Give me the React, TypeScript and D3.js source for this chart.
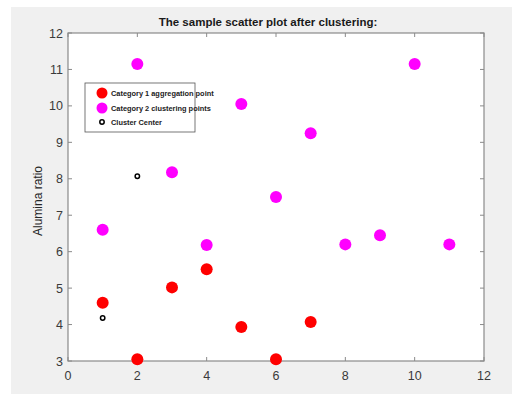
import React, { useEffect, useRef } from "react";
import * as d3 from "d3";

// category 1 (red) points
const cat1X = [1, 2, 3, 4, 5, 6, 7];
const cat1Y = [4.6, 3.05, 5.02, 5.52, 3.93, 3.05, 4.07];

// category 2 (magenta) points
const cat2X = [1, 2, 3, 4, 5, 6, 7, 8, 9, 10, 11];
const cat2Y = [6.6, 11.15, 8.18, 6.18, 10.05, 7.5, 9.25, 6.2, 6.45, 11.15, 6.2];

// cluster centers
const centerX = [1, 2];
const centerY = [4.18, 8.07];

const xTicks = [0, 2, 4, 6, 8, 10, 12];
const yTicks = [3, 4, 5, 6, 7, 8, 9, 10, 11, 12];

const legendLabels = [
  "Category 1 aggregation point",
  "Category 2 clustering points",
  "Cluster Center",
];

const W = 512;
const H = 394;

const App: React.FC = () => {
  const svgRef = useRef<SVGSVGElement | null>(null);

  useEffect(() => {
    const svg = d3.select(svgRef.current);
    svg.selectAll("*").remove();

    const left = 68, right = 484, top = 33, bottom = 361;
    const x = d3.scaleLinear().domain([0, 12]).range([left, right]);
    const y = d3.scaleLinear().domain([3, 12]).range([bottom, top]);
    const axisColor = "#8a8a8a";
    const labelColor = "#3a3a3a";
    const font = "Arial, 'Liberation Sans', sans-serif";

    // figure background
    svg.append("rect").attr("x", 11).attr("y", 7).attr("width", W - 11).attr("height", H - 7).attr("fill", "#f0f0f0");
    svg.append("rect").attr("x", left).attr("y", top).attr("width", right - left).attr("height", bottom - top).attr("fill", "#fff");

    // ticks on all four sides, pointing inward
    const tickLen = 4;
    const g = svg.append("g").attr("stroke", axisColor).attr("stroke-width", 1);
    xTicks.forEach((t) => {
      g.append("line").attr("x1", x(t)).attr("x2", x(t)).attr("y1", bottom).attr("y2", bottom - tickLen);
      g.append("line").attr("x1", x(t)).attr("x2", x(t)).attr("y1", top).attr("y2", top + tickLen);
    });
    yTicks.forEach((t) => {
      g.append("line").attr("x1", left).attr("x2", left + tickLen).attr("y1", y(t)).attr("y2", y(t));
      g.append("line").attr("x1", right).attr("x2", right - tickLen).attr("y1", y(t)).attr("y2", y(t));
    });
    svg.append("rect").attr("x", left).attr("y", top).attr("width", right - left).attr("height", bottom - top)
      .attr("fill", "none").attr("stroke", axisColor).attr("stroke-width", 1.2);

    // tick labels
    svg.append("g").selectAll("text").data(xTicks).enter().append("text")
      .attr("x", (d) => x(d)).attr("y", bottom + 19)
      .attr("text-anchor", "middle").attr("font-family", font).attr("font-size", 12.5).attr("fill", labelColor)
      .text((d) => d);
    svg.append("g").selectAll("text").data(yTicks).enter().append("text")
      .attr("x", left - 5).attr("y", (d) => y(d) + 4.5)
      .attr("text-anchor", "end").attr("font-family", font).attr("font-size", 12.5).attr("fill", labelColor)
      .text((d) => d);

    // title and y label
    svg.append("text").attr("x", 268).attr("y", 26).attr("text-anchor", "middle")
      .attr("font-family", font).attr("font-weight", "bold").attr("font-size", 11.5).attr("fill", "#1a1a1a")
      .text("The sample scatter plot after clustering:");
    svg.append("text").attr("transform", `translate(42, ${(top + bottom) / 2 + 4}) rotate(-90)`)
      .attr("text-anchor", "middle").attr("font-family", font).attr("font-size", 12).attr("fill", "#262626")
      .text("Alumina ratio");

    // points
    const pts = svg.append("g");
    pts.selectAll(".c1").data(cat1X).enter().append("circle")
      .attr("cx", (d) => x(d)).attr("cy", (d, i) => y(cat1Y[i])).attr("r", 6).attr("fill", "#ff0000");
    pts.selectAll(".c2").data(cat2X).enter().append("circle")
      .attr("cx", (d) => x(d)).attr("cy", (d, i) => y(cat2Y[i])).attr("r", 6).attr("fill", "#ff00ff");
    pts.selectAll(".cc").data(centerX).enter().append("circle")
      .attr("cx", (d) => x(d)).attr("cy", (d, i) => y(centerY[i])).attr("r", 2.2)
      .attr("fill", "none").attr("stroke", "#000").attr("stroke-width", 1.5);

    // legend
    const lg = svg.append("g");
    lg.append("rect").attr("x", 85).attr("y", 83).attr("width", 110).attr("height", 49)
      .attr("fill", "#fff").attr("stroke", "#555").attr("stroke-width", 0.8);
    const rowY = [93, 108, 122];
    lg.append("circle").attr("cx", 102).attr("cy", rowY[0]).attr("r", 5.5).attr("fill", "#ff0000");
    lg.append("circle").attr("cx", 102).attr("cy", rowY[1]).attr("r", 5.5).attr("fill", "#ff00ff");
    lg.append("circle").attr("cx", 102).attr("cy", rowY[2]).attr("r", 2.2)
      .attr("fill", "none").attr("stroke", "#000").attr("stroke-width", 1.5);
    lg.selectAll("text").data(legendLabels).enter().append("text")
      .attr("x", 111).attr("y", (d, i) => rowY[i] + 2.5)
      .attr("font-family", font).attr("font-weight", "bold").attr("font-size", 7.4).attr("fill", "#222")
      .text((d) => d);
  }, []);

  return (
    <svg
      ref={svgRef}
      width={W}
      height={H}
      style={{ position: "absolute", left: 0, top: 0, display: "block", background: "#fff" }}
    ></svg>
  );
};

export default App;
